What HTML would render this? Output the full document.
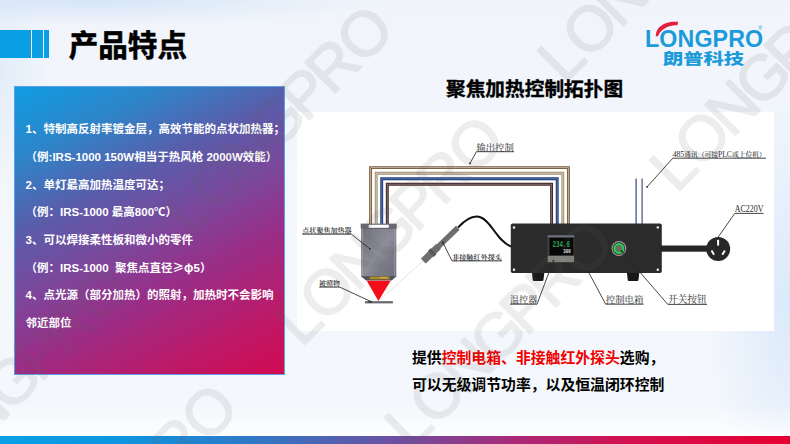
<!DOCTYPE html>
<html lang="zh-CN">
<head>
<meta charset="utf-8">
<title>产品特点</title>
<style>
html,body{margin:0;padding:0;}
body{width:790px;height:444px;overflow:hidden;position:relative;background:#f1f5fb;
  font-family:"Liberation Sans","Noto Sans CJK SC",sans-serif;}
#slide{position:absolute;left:0;top:0;width:790px;height:444px;overflow:hidden;
  background:
    radial-gradient(ellipse 300px 26px at 90px 0, rgba(212,228,247,.95), rgba(212,228,247,0) 100%),
    radial-gradient(ellipse 50px 120px at 0 70px, rgba(222,234,249,.8), rgba(222,234,249,0) 100%),
    radial-gradient(ellipse 85px 210px at 100% 68%, rgba(218,232,250,.95), rgba(218,232,250,0) 100%),
    linear-gradient(180deg,#f1f5fb 0%,#f3f7fc 40%,#f4f8fc 100%);}
.abs{position:absolute;}
#bar{left:0;top:30.300px;width:49.400px;height:27.300px;background:#0a9fe4;}
#bar i{position:absolute;top:0;width:1.400px;height:27.300px;background:#f1f5fb;}
#ttl{left:68.700px;top:23.600px;font-size:29.600px;font-weight:700;-webkit-text-stroke:.550px #000;color:#000;line-height:44px;white-space:nowrap;letter-spacing:0;}
#box{left:14.200px;top:85.600px;width:269px;height:287.600px;border:1px solid #5aa0e6;
  background:linear-gradient(153deg,#0f9ce2 0%,#2f84c8 18%,#5a5caa 35%,#7a489c 50%,#982f88 65%,#b81c6c 82%,#d20a52 100%);}
#box p{position:absolute;left:10.400px;margin:0;color:#fff;font-weight:700;font-size:11.500px;line-height:28px;white-space:nowrap;}
#rt{left:446px;top:74px;font-size:19.7px;font-weight:700;-webkit-text-stroke:.350px #000;color:#000;line-height:30px;white-space:nowrap;}
#dia{left:297.300px;top:111.800px;width:476.700px;height:218.800px;background:#fff;box-shadow:0 0 1.500px 0.300px #fff;}
.bt{left:412px;font-size:14.850px;font-weight:700;color:#000;line-height:24px;white-space:nowrap;}
.bt b{color:#f00000;font-weight:700;}
#logo{left:640px;top:15px;width:130px;height:60px;color:#1b9bd9;}
#lg1{position:absolute;left:5px;top:9.500px;font-family:"Liberation Sans",sans-serif;font-weight:700;font-size:23.200px;line-height:28px;white-space:nowrap;letter-spacing:.150px;}
#lg2{position:absolute;left:23.200px;top:32.600px;font-size:14.900px;font-weight:900;line-height:22px;white-space:nowrap;transform-origin:0 50%;transform:scaleX(1.360);}
#lg3{position:absolute;left:118.300px;top:9.800px;font-size:5.500px;line-height:6px;font-family:"Liberation Sans",sans-serif;}
#haze{left:0;top:404px;width:790px;height:32px;background:linear-gradient(180deg,rgba(255,255,255,0),rgba(255,255,255,.75));}
#foot{left:0;top:436px;width:790px;height:8px;background:linear-gradient(90deg,#0aa0e6 0%,#0e96e0 15%,#2f78c6 32%,#6c50a2 50%,#a82a78 65%,#d4104e 80%,#e60032 100%);}
</style>
</head>
<body>
<div id="slide">
  <div id="haze" class="abs"></div>
  <div id="bar" class="abs"><i style="left:30.700px"></i><i style="left:42.800px"></i></div>
  <div id="ttl" class="abs">产品特点</div>

  <div id="box" class="abs">
    <p style="top:28.9px">1、特制高反射率镀金层，高效节能的点状加热器；</p>
    <p style="top:56.5px">（例:IRS-1000 150W相当于热风枪 2000W效能）</p>
    <p style="top:84.1px">2、单灯最高加热温度可达；</p>
    <p style="top:111.7px">（例：IRS-1000 最高800℃）</p>
    <p style="top:139.3px">3、可以焊接柔性板和微小的零件</p>
    <p style="top:166.9px">（例：IRS-1000&nbsp; 聚焦点直径<span style="font-family:'Noto Sans CJK SC',sans-serif">≥φ</span>5）</p>
    <p style="top:194.5px">4、点光源（部分加热）的照射，加热时不会影响</p>
    <p style="top:222.1px">邻近部位</p>
  </div>

  <div id="rt" class="abs">聚焦加热控制拓扑图</div>
  <div id="dia" class="abs"></div>
<svg id="dsvg" class="abs" style="left:0;top:0" width="790" height="444" viewBox="0 0 790 444">
  <g fill="none" stroke-linejoin="miter">
    <!-- output wires -->
    <path d="M370.6 226V167.6H568.4V225" stroke="#7a5c38" stroke-width="2.9"/>
    <path d="M370.6 226V167.6H568.4V225" stroke="#fff" stroke-width=".7" stroke-opacity=".75"/>
    <path d="M376.2 226V173.2H562.8V225" stroke="#a08f72" stroke-width="2.9"/>
    <path d="M376.2 226V173.2H562.8V225" stroke="#fff" stroke-width=".7" stroke-opacity=".75"/>
    <path d="M381.7 226V178.7H557.2V225" stroke="#1b3b7e" stroke-width="2.9"/>
    <path d="M381.7 226V178.7H557.2V225" stroke="#fff" stroke-width=".7" stroke-opacity=".4"/>
    <path d="M387.3 226V184.3H551.6V225" stroke="#452626" stroke-width="2.9"/>
    <path d="M387.3 226V184.3H551.6V225" stroke="#fff" stroke-width=".7" stroke-opacity=".45"/>
    <!-- 485 wires -->
    <path d="M636.1 178.6V224" stroke="#44539a" stroke-width="1.3"/>
    <path d="M642.1 178.6V224" stroke="#5c5c7e" stroke-width="1.3"/>
  </g>
  <!-- heater -->
  <defs>
    <linearGradient id="hg" x1="0" y1="0" x2="1" y2="1">
      <stop offset="0" stop-color="#737380"/><stop offset=".3" stop-color="#82828e"/><stop offset=".5" stop-color="#8e8e9a"/><stop offset=".7" stop-color="#7b7b88"/><stop offset="1" stop-color="#70707d"/>
    </linearGradient>
  </defs>
  <g>
    <rect x="360.700" y="223.600" width="36" height="4.400" fill="#686876"/>
    <rect x="368.700" y="224.800" width="20.100" height="3.400" fill="#fcfcfd"/>
    <rect x="361.100" y="227.900" width="35.200" height="49.200" fill="url(#hg)"/>
    <rect x="361.100" y="227.900" width="35.200" height=".8" fill="#5a5a66"/>
    <rect x="362.200" y="228.500" width=".7" height="48" fill="#a3a3af"/>
    <rect x="394.400" y="228.500" width=".7" height="48" fill="#a3a3af"/>
    <path d="M361.100 276.300H396.300L391.800 280.400H366Z" fill="#50505a"/>
    <rect x="369.700" y="276.700" width="19.900" height="2.600" fill="#b08a22"/>
    <rect x="380" y="276.900" width="7" height="1.400" fill="#d2ae42"/>
    <path d="M366.700 280.800H390.700L378.400 300.900Z" fill="#f20f1a"/>
    <rect x="365" y="301.100" width="27.900" height="2.300" fill="#6c6c75"/>
    <rect x="368" y="301.300" width="3.200" height="1.400" fill="#44444c"/>
    <path d="M380.500 299.500L424 260" stroke="#d9cbbb" stroke-width=".6" fill="none"/>
  </g>
  <!-- probe -->
  <g>
    <path d="M458 227.5C466 219 474 214.500 481 217.500C492 222 496 240 511 246.500" fill="none" stroke="#111" stroke-width="2"/>
    <path d="M423.400 261L457.800 227.800" stroke="#6e6e6e" stroke-width="5.400" fill="none"/>
    <path d="M423.400 261L438.500 246.400" stroke="#6e6e6e" stroke-width="7" fill="none"/>
    <path d="M430.800 253.900L433.600 251.200" stroke="#5a5a5a" stroke-width="8.400" fill="none"/>
  </g>
  <!-- control box -->
  <g>
    <path d="M531.800 272H544.400L543.400 280.200Q543.300 281 542.400 281H533.800Q532.900 281 532.800 280.200Z" fill="#181818"/>
    <path d="M626.800 272H639.400L638.400 280.200Q638.300 281 637.400 281H628.800Q627.900 281 627.800 280.200Z" fill="#181818"/>
    <rect x="510.800" y="223.500" width="151" height="49.600" rx="1.800" fill="#2b2b2b"/>
    <circle cx="514" cy="227.500" r="1.200" fill="#f2f2f2"/><circle cx="514" cy="269.700" r="1.200" fill="#f2f2f2"/>
    <circle cx="657.800" cy="227.400" r="1.200" fill="#f2f2f2"/><circle cx="657.800" cy="269.800" r="1.200" fill="#f2f2f2"/>
    <rect x="547.400" y="235.200" width="27" height="27.600" fill="#414141"/>
    <rect x="547.600" y="235.300" width="26.600" height="2" fill="#6a7080"/>
    <rect x="549.400" y="237.800" width="24" height="17.400" fill="#070707"/>
    <rect x="547.800" y="256" width="26.200" height="6" fill="#85857f"/>
    <text x="552.400" y="247.100" font-family="'Liberation Mono',monospace" font-size="8.600" font-weight="700" fill="#2ba350" textLength="17.600" lengthAdjust="spacingAndGlyphs">234.6</text>
    <text x="563.300" y="253.300" font-family="'Liberation Mono',monospace" font-size="4.800" font-weight="700" fill="#f4f4f4" textLength="7.400" lengthAdjust="spacingAndGlyphs">300</text>
    <circle cx="618.900" cy="248.500" r="7.400" fill="#a2a2a2"/>
    <circle cx="618.900" cy="248.500" r="6.400" fill="#3a3a3a"/>
    <circle cx="618.900" cy="248.500" r="4.500" fill="#6a6d6a" stroke="#22d648" stroke-width="1.900"/>
    <rect x="660" y="245.500" width="48" height="6.200" fill="#262626"/>
    <circle cx="718.200" cy="248.900" r="12" fill="#272727"/>
    <rect x="717.100" y="239.800" width="2" height="5.800" fill="#fff"/>
    <path d="M711.500 250.500L714.100 254.700" stroke="#fff" stroke-width="1.900" fill="none"/>
    <path d="M724.900 250.500L722.300 254.700" stroke="#fff" stroke-width="1.900" fill="none"/>
  </g>
  <!-- leaders -->
  <g fill="none" stroke="#262626" stroke-width=".850">
    <path d="M514 151.700H476.400L470 163.400"/>
    <path d="M302.300 234.200H351.300L369.900 248.800"/>
    <path d="M319.100 287.100H339.700L371 301.600"/>
    <path d="M501.800 260.900H452L442.800 242.400"/>
    <path d="M510 304.200H537L553.400 260.600"/>
    <path d="M643.500 304.200H605.700L586 267.400"/>
    <path d="M707 304.400H667.800L621.600 251"/>
    <path d="M766 158.200H672.800L647.100 186.900"/>
    <path d="M763.500 213.400H734.800L718.200 237"/>
  </g>
  <g fill="#222">
    <circle cx="470" cy="163.400" r=".9"/><circle cx="369.900" cy="248.800" r=".9"/><circle cx="371" cy="301.600" r=".9"/>
    <circle cx="442.800" cy="242.400" r=".9"/><circle cx="553.400" cy="260.600" r=".9"/><circle cx="586" cy="267.400" r=".9"/>
    <circle cx="621.600" cy="251" r=".9"/><circle cx="647.100" cy="186.900" r=".9"/>
  </g>
  <g font-family="'Liberation Serif','Noto Serif CJK SC',serif" fill="#2c2c2c" font-weight="400">
    <text x="476.400" y="150.600" font-size="9.350">输出控制</text>
    <text x="302.300" y="233" font-size="7.050" font-weight="600">点状聚焦加热器</text>
    <text x="319.100" y="286" font-size="6.950" font-weight="600">被照物</text>
    <text x="452" y="259.800" font-size="7.150" font-weight="600">非接触红外探头</text>
    <text x="510" y="303" font-size="9.100">温控器</text>
    <text x="605.700" y="303" font-size="9.450">控制电箱</text>
    <text x="668" y="303" font-size="9.700">开关按钮</text>
    <text x="672.800" y="156.500" font-size="6.900" font-weight="500" textLength="93.200" lengthAdjust="spacing"><tspan font-weight="400" font-size="7.700">485</tspan>通讯（可接<tspan font-weight="400" font-size="7.700">PLC</tspan>或上位机）</text>
    <text x="734.800" y="212.400" font-size="9.600" font-weight="400" textLength="28.700" lengthAdjust="spacingAndGlyphs">AC220V</text>
  </g>
</svg>

  <div class="abs bt" style="top:346.100px">提供<b>控制电箱、非接触红外探头</b>选购，</div>
  <div class="abs bt" style="top:372.900px">可以无级调节功率，以及恒温闭环控制</div>

  <div id="logo" class="abs">
    <div id="lg1">LONGPRO</div>
    <svg class="abs" style="left:0;top:0" width="130" height="60" viewBox="0 0 130 60">
      <path d="M15.800 21.300C15.600 15.500 19.500 10.600 25 8.400C29.500 6.700 34 6.500 38.200 6.800L37.400 10.300C33.500 10.300 30 10.800 26.800 12.300C22.500 14.300 19.300 17.300 18 21.300Z" fill="#e2213d"/>
    </svg>
    <div id="lg3">®</div>
    <div id="lg2">朗普科技</div>
  </div>
  <div id="foot" class="abs"></div>
  <svg id="wms" class="abs" style="left:0;top:0" width="790" height="444" viewBox="0 0 790 444">
    <g font-family="'Liberation Sans',sans-serif" font-size="63" fill="#606060" stroke="#606060" stroke-width="1.5" stroke-linejoin="round" opacity="0.115">
      <text transform="translate(279.3 118.7) rotate(-45)" x="-147.1 -113.3 -68.7 -27.7 15.2 52.6 96.0" y="21.7">LONGPRO</text>
      <text transform="translate(765 75) rotate(-45)" x="-147.1 -113.3 -68.7 -27.7 15.2 52.6 96.0" y="21.7">LONGPRO</text>
      <text transform="translate(390 229) rotate(-45)" x="-147.1 -113.3 -68.7 -27.7 15.2 52.6 96.0" y="21.7">LONGPRO</text>
      <text transform="translate(652.9 -34.4) rotate(-45)" x="-147.1 -113.3 -68.7 -27.7 15.2 52.6 96.0" y="21.7">LONGPRO</text>
      <text transform="translate(14.5 379) rotate(-45)" x="-147.1 -113.3 -68.7 -27.7 15.2 52.6 96.0" y="21.7">LONGPRO</text>
      <text transform="translate(123.8 497.2) rotate(-45)" x="-147.1 -113.3 -68.7 -27.7 15.2 52.6 96.0" y="21.7">LONGPRO</text>
      <text transform="translate(499.6 332.4) rotate(-45)" x="-147.1 -113.3 -68.7 -27.7 15.2 52.6 96.0" y="21.7">LONGPRO</text>
    </g>
  </svg>
</div>
</body>
</html>
